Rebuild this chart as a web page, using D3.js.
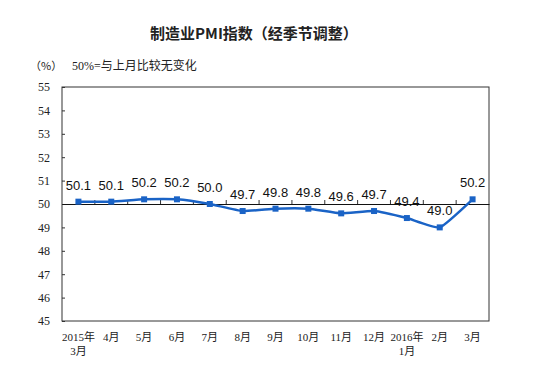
<!DOCTYPE html>
<html><head><meta charset="utf-8">
<script src="https://cdn.jsdelivr.net/npm/d3@7"></script>
<style>body{margin:0;background:#fff}svg{display:block}</style>
</head><body>
<script>
const categories = [["2015年","3月"],["4月"],["5月"],["6月"],["7月"],["8月"],["9月"],["10月"],["11月"],["12月"],["2016年","1月"],["2月"],["3月"]];
const values = [50.1,50.1,50.2,50.2,50.0,49.7,49.8,49.8,49.6,49.7,49.4,49.0,50.2];
const yTicks = [45,46,47,48,49,50,51,52,53,54,55];
const title = "制造业PMI指数（经季节调整）";
const unitLabel = "（%）";
const note = "50%=与上月比较无变化";

const W=533,H=365, L=62,R=489,T=87,B=321;
const svg=d3.select("body").append("svg").attr("width",W).attr("height",H);
const serif="'Liberation Serif','Times New Roman','Noto Sans CJK SC',serif";
const sans="'Liberation Sans',Arial,'Noto Sans CJK SC',sans-serif";

const x=d3.scaleBand().domain(d3.range(categories.length)).range([L,R]);
const y=d3.scaleLinear().domain([45,55]).range([B,T]);

svg.append("text").attr("x",254).attr("y",39).attr("text-anchor","middle")
  .attr("font-family","'Noto Sans CJK SC',sans-serif").attr("font-size",15).attr("font-weight","bold").attr("fill","#222").text(title);
svg.append("text").attr("x",30).attr("y",70).attr("font-family","'Noto Sans CJK SC',serif").attr("font-size",11).attr("fill","#222").text(unitLabel);
svg.append("text").attr("x",72).attr("y",70).attr("font-family",serif).attr("font-size",12).attr("fill","#222").text(note);

// frame
svg.append("rect").attr("x",L).attr("y",T).attr("width",R-L).attr("height",B-T).attr("fill","none").attr("stroke","#333").attr("stroke-width",1);

// y axis
const ya=svg.append("g").attr("transform",`translate(${L},0)`)
  .call(d3.axisLeft(y).tickValues(yTicks).tickSize(-3).tickPadding(12).tickFormat(d3.format("d")));
ya.select(".domain").remove();
ya.selectAll("line").attr("stroke","#333");
ya.selectAll("text").attr("font-family",serif).attr("font-size",12).attr("fill","#222");

// 50 baseline with category ticks
const xa=svg.append("g").attr("transform",`translate(0,${y(50)})`)
  .call(d3.axisTop(x).tickValues([]).tickSizeOuter(0));
xa.select(".domain").attr("stroke","#111");
svg.append("g").selectAll("line").data(d3.range(1,categories.length)).join("line")
  .attr("x1",d=>x(d)).attr("x2",d=>x(d)).attr("y1",y(50)).attr("y2",y(50)-4).attr("stroke","#333");

// category labels
const cl=svg.append("g").selectAll("text").data(categories).join("text")
  .attr("text-anchor","middle").attr("font-family",serif).attr("font-size",11).attr("fill","#222");
cl.each(function(d,i){
  const t=d3.select(this);
  d.forEach((s,j)=>t.append("tspan").attr("x",x(i)+x.bandwidth()/2).attr("y",341+j*14).text(s));
});

// line
const cx=i=>x(i)+x.bandwidth()/2;
svg.append("path").datum(values).attr("fill","none").attr("stroke","#1a63c6").attr("stroke-width",2.5)
  .attr("d",d3.line().x((d,i)=>cx(i)).y(d=>y(d)).curve(d3.curveCardinal.tension(0.6)));
svg.append("g").selectAll("rect").data(values).join("rect")
  .attr("x",(d,i)=>cx(i)-3).attr("y",d=>y(d)-3).attr("width",6).attr("height",6).attr("fill","#1a63c6");
svg.append("g").selectAll("text").data(values).join("text")
  .attr("x",(d,i)=>cx(i)).attr("y",d=>y(d)-12).attr("text-anchor","middle")
  .attr("font-family",sans).attr("font-size",13).attr("fill","#111").text(d=>d.toFixed(1));
</script>
</body></html>
